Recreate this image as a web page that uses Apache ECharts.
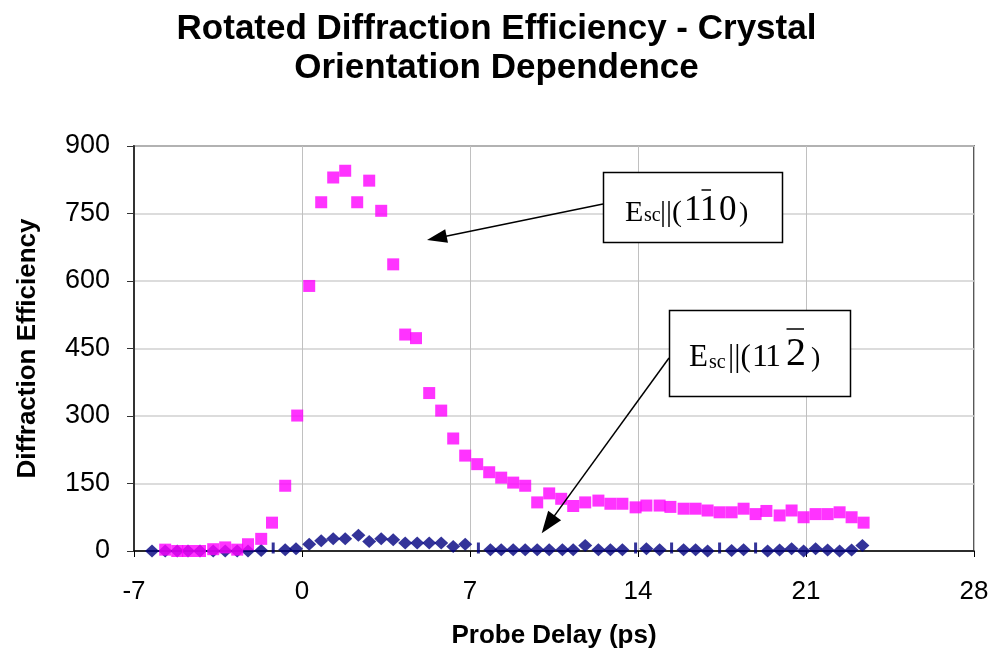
<!DOCTYPE html>
<html><head><meta charset="utf-8">
<script src="https://cdn.jsdelivr.net/npm/echarts@6/dist/echarts.min.js"></script>
<style>html,body{margin:0;padding:0;background:#fff}#c{width:993px;height:654px}</style>
</head><body><div id="c"></div>
<script>
const titleLines = ['Rotated Diffraction Efficiency - Crystal', 'Orientation Dependence'];
const xAxisName = 'Probe Delay (ps)';
const yAxisName = 'Diffraction Efficiency';
const xTickMin = -7, xTickMax = 28, xTickStep = 7;
const yTickMin = 0, yTickMax = 900, yTickStep = 150;

// E_sc || (1 -1 0) series (magenta squares)
const pinkX = [-5.7,-5.2,-4.75,-4.25,-3.7,-3.2,-2.7,-2.25,-1.7,-1.25,-0.7,-0.2,0.3,0.8,1.3,1.8,2.3,2.8,3.3,3.8,4.3,4.75,5.3,5.8,6.3,6.8,7.3,7.8,8.3,8.8,9.3,9.8,10.3,10.8,11.3,11.8,12.35,12.85,13.35,13.9,14.35,14.9,15.35,15.9,16.4,16.9,17.4,17.9,18.4,18.9,19.35,19.9,20.4,20.9,21.4,21.9,22.4,22.9,23.4];
const pinkY = [3,0,0,0,4,8,3,15,27,63,145,301,589,775,830,845,775,823,756,637,481,473,351,312,250,212,193,175,163,152,145,108,128,116,100,108,112,105,105,97,101,101,98,94,94,90,86,86,94,82,89,79,90,75,82,82,86,75,63];

// E_sc || (1 1 -2) series (navy diamonds)
const blueX = [-6.25,-5.7,-5.2,-4.75,-4.25,-3.7,-3.2,-2.7,-2.25,-1.7,-0.7,-0.25,0.3,0.8,1.3,1.8,2.35,2.8,3.3,3.8,4.3,4.8,5.3,5.8,6.3,6.8,7.85,8.3,8.8,9.3,9.8,10.3,10.85,11.3,11.8,12.35,12.85,13.35,14.35,14.9,15.9,16.4,16.9,17.9,18.4,19.4,19.9,20.4,20.9,21.4,21.9,22.4,22.9,23.35];
const blueY = [0,0,0,0,0,0,0,0,0,1,3,5,15,23,27,27,35,21,27,25,18,18,18,18,10,15,3,3,3,3,3,3,3,3,12,3,3,3,5,3,3,3,0,1,3,0,2,5,0,5,2,0,2,12];
// navy points falling just below the axis (drawn clipped)
const blueClippedX = [-1.2,7.35,13.9,15.4,17.4,18.9];

const chart = echarts.init(document.getElementById('c'), null, {renderer:'canvas'});

function arrow(x1, y1, x2, y2, len, half) {
  const dx = x2 - x1, dy = y2 - y1, L = Math.hypot(dx, dy);
  const ux = dx / L, uy = dy / L;
  const bx = x2 - ux * len, by = y2 - uy * len;
  return [
    {type:'line', shape:{x1:x1, y1:y1, x2:bx + ux*2, y2:by + uy*2}, style:{stroke:'#000', lineWidth:1.5}, z:100},
    {type:'polygon', shape:{points:[[x2,y2],[bx - uy*half, by + ux*half],[bx + uy*half, by - ux*half]]}, style:{fill:'#000'}, z:100}
  ];
}
function piece(t, x, base, size) {
  return {type:'text', x:x, y:base - 0.34*size, z:102,
    style:{text:t, font: size + 'px "Liberation Serif", "Times New Roman", serif', fill:'#000', align:'left', verticalAlign:'middle'}};
}
function bar(x1, x2, y) {
  return {type:'line', shape:{x1:x1, y1:y, x2:x2, y2:y}, style:{stroke:'#000', lineWidth:1.5}, z:102};
}

const graphics = [].concat(
  arrow(603, 204, 427, 240, 20, 7),
  arrow(669, 358, 541.7, 533.3, 22, 8),
  [
    {type:'rect', shape:{x:603.5, y:172.5, width:179, height:70}, style:{fill:'#fff', stroke:'#000', lineWidth:1.5}, z:101},
    piece('E', 625, 223, 30), piece('sc', 644, 223, 20), piece('||(', 660, 223, 30),
    piece('1', 684, 223, 35), piece('1', 700, 223, 35), piece('0', 719, 223, 35), piece(')', 739, 223, 28),
    bar(701.5, 711, 190),
    {type:'rect', shape:{x:669.5, y:310.5, width:181, height:86}, style:{fill:'#fff', stroke:'#000', lineWidth:1.5}, z:101},
    piece('E', 689, 368, 31), piece('sc', 709, 370, 20), piece('||(', 728, 368, 31),
    piece('1', 752, 368, 32), piece('1', 765, 368, 32), piece('2', 786, 368, 40), piece(')', 811, 368, 28),
    bar(786.5, 804, 329)
  ]
);

const option = {
  backgroundColor:'#fff',
  animation:false,
  title:{
    text: titleLines.join('\n'), left:'center', top:5,
    textStyle:{fontFamily:'"Liberation Sans", Arial, sans-serif', fontWeight:'bold', fontSize:35, lineHeight:39, color:'#000'}
  },
  grid:{left:134, right:19, top:146, bottom:101, show:true, borderColor:'#222', borderWidth:1.5, backgroundColor:'#fff'},
  xAxis:{
    type:'value', min:xTickMin, max:xTickMax, interval:xTickStep,
    name:xAxisName, nameLocation:'middle', nameGap:72,
    nameTextStyle:{fontFamily:'"Liberation Sans", Arial, sans-serif', fontWeight:'bold', fontSize:26, color:'#000'},
    axisLine:{show:true, onZero:false, lineStyle:{color:'#000', width:1.5}},
    axisTick:{show:true, inside:false, length:6, lineStyle:{color:'#000', width:1}},
    axisLabel:{fontFamily:'"Liberation Sans", Arial, sans-serif', fontSize:26, color:'#000', margin:28},
    splitLine:{show:true, lineStyle:{color:'#c0c0c0', width:1}}
  },
  yAxis:{
    type:'value', min:yTickMin, max:yTickMax, interval:yTickStep,
    name:yAxisName, nameLocation:'middle', nameGap:93, nameRotate:90,
    nameTextStyle:{fontFamily:'"Liberation Sans", Arial, sans-serif', fontWeight:'bold', fontSize:26, color:'#000'},
    axisLine:{show:true, onZero:false, lineStyle:{color:'#333', width:2}},
    axisTick:{show:true, inside:false, length:7, lineStyle:{color:'#333', width:1}},
    axisLabel:{fontFamily:'"Liberation Sans", Arial, sans-serif', fontSize:27, color:'#000', margin:24},
    splitLine:{show:true, lineStyle:{color:'#d0d0d0', width:1.5}}
  },
  series:[
    {type:'scatter', name:'(11-2)', symbol:'diamond', symbolSize:[14,13], z:2,
      itemStyle:{color:'#000080'}, data: blueX.map((x,i)=>[x, blueY[i]])},
    {type:'scatter', name:'clipped', symbol:'rect', symbolSize:[3,11], symbolOffset:[0,-3], z:2,
      itemStyle:{color:'#000080'}, data: blueClippedX.map(x=>[x, 0])},
    {type:'scatter', name:'(1-10)', symbol:'rect', symbolSize:12, z:3,
      itemStyle:{color:'#ff00ff'}, data: pinkX.map((x,i)=>[x, pinkY[i]])}
  ],
  graphic: graphics
};
chart.setOption(option);
</script></body></html>
